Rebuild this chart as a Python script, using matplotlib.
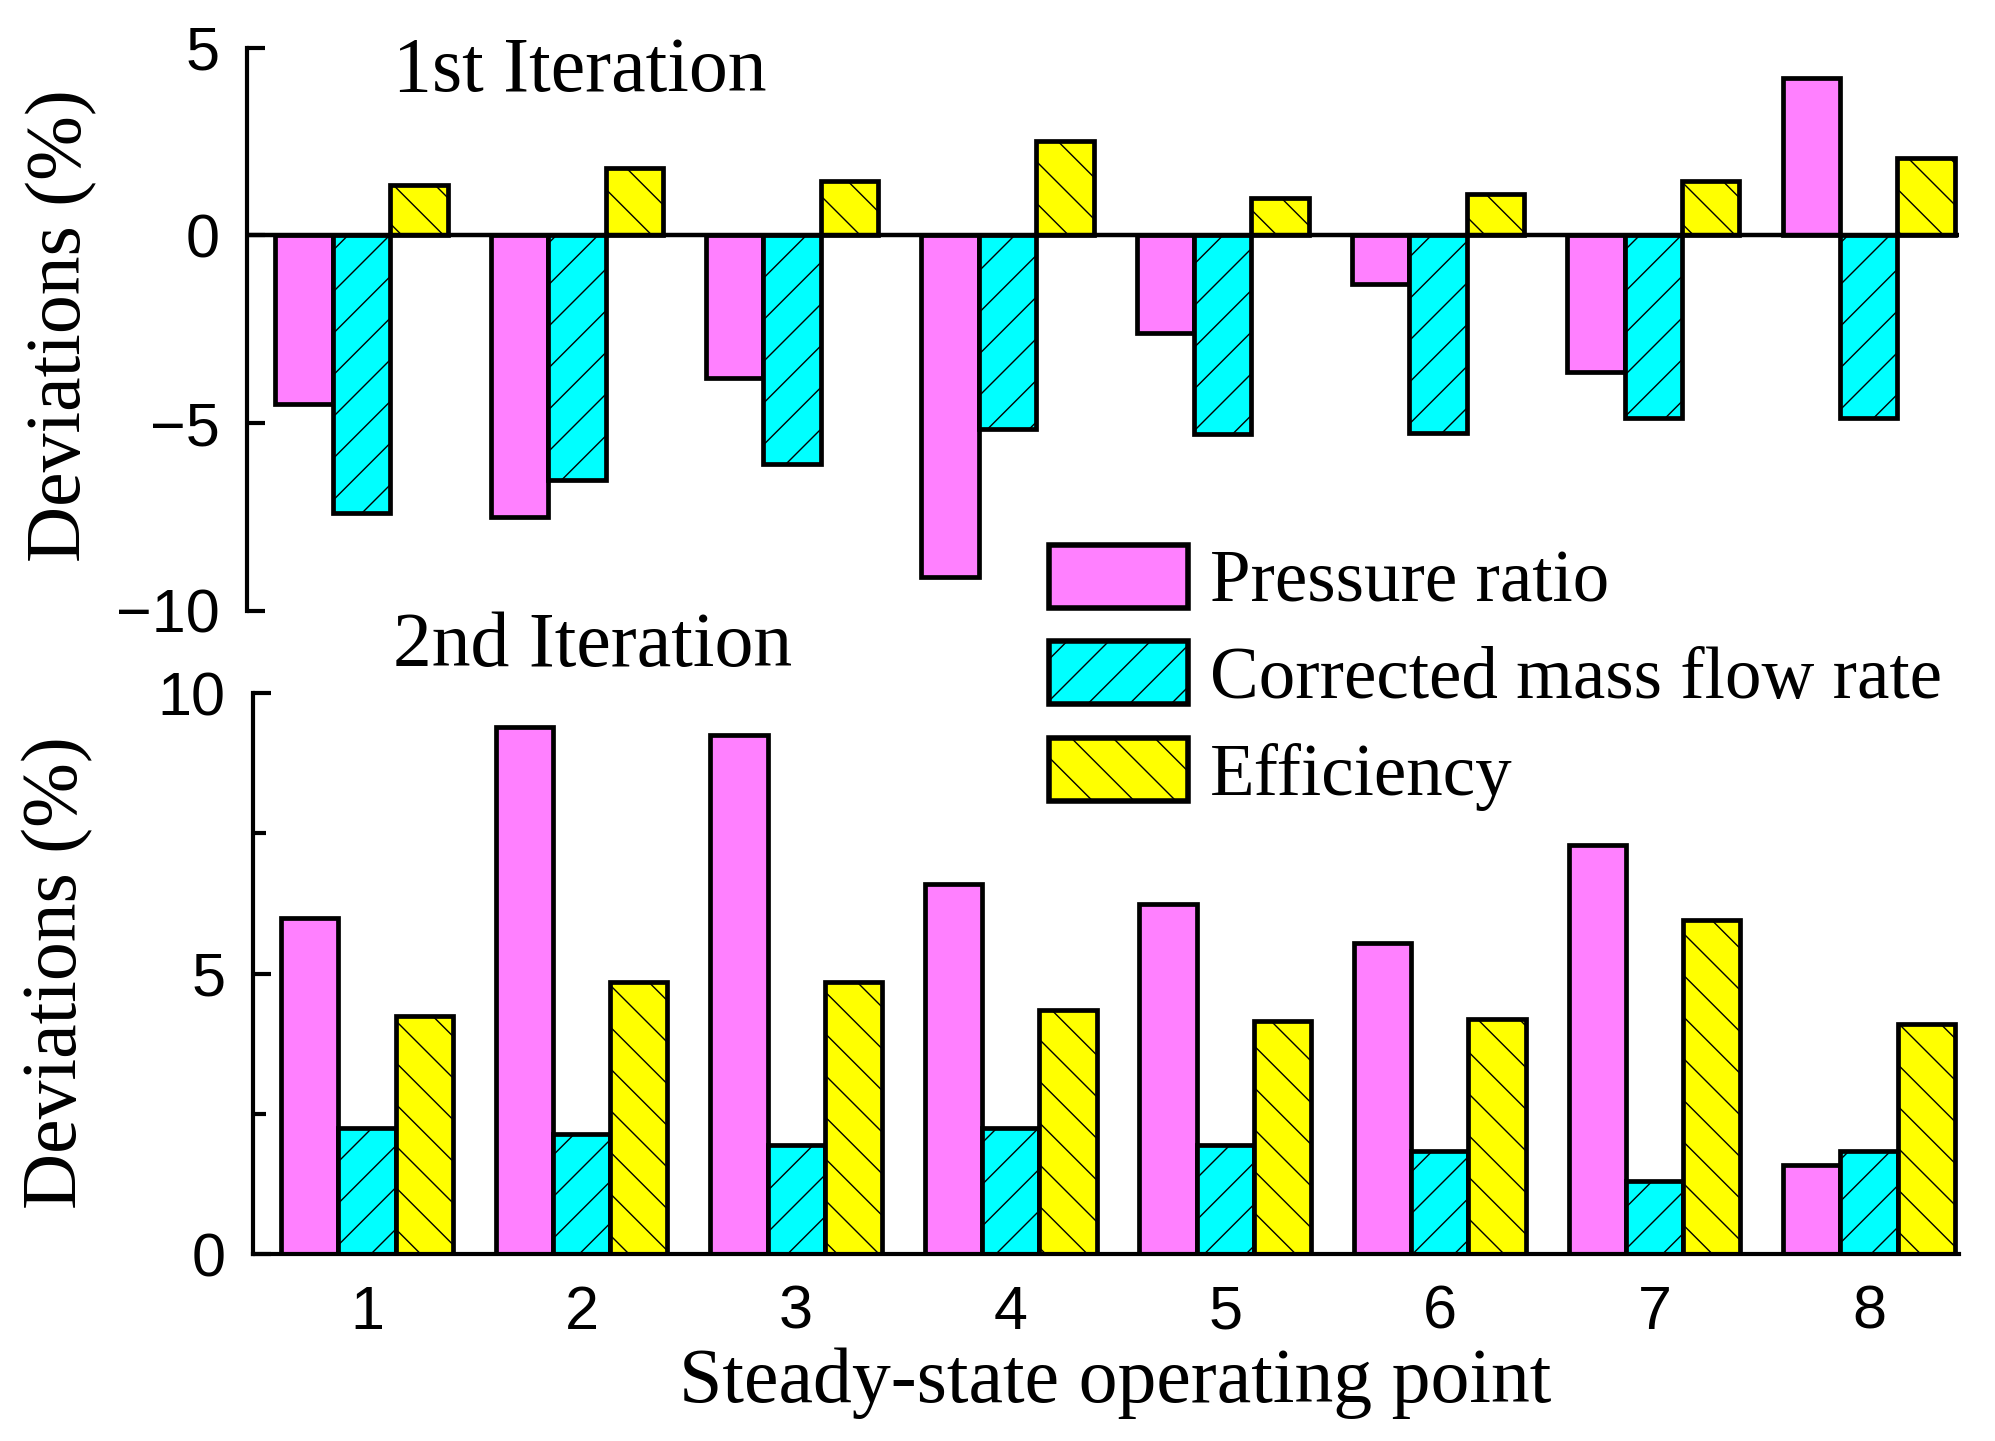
import numpy as np
import matplotlib
matplotlib.use("Agg")
import matplotlib.pyplot as plt

# values
points = [1, 2, 3, 4, 5, 6, 7, 8]
series = ["Pressure ratio", "Corrected mass flow rate", "Efficiency"]

first_pressure = [-4.5, -7.5, -3.8, -9.1, -2.6, -1.3, -3.65, 4.2]
first_flow = [-7.4, -6.5, -6.1, -5.15, -5.3, -5.25, -4.85, -4.85]
first_eff = [1.35, 1.8, 1.45, 2.5, 1.0, 1.1, 1.45, 2.05]

second_pressure = [6.0, 9.4, 9.25, 6.6, 6.25, 5.55, 7.3, 1.6]
second_flow = [2.25, 2.15, 1.95, 2.25, 1.95, 1.85, 1.3, 1.85]
second_eff = [4.25, 4.85, 4.85, 4.35, 4.15, 4.2, 5.95, 4.1]

colors = ["#FF80FF", "#00FFFF", "#FFFF00"]
hatches = [None, "/", "\\"]

DPI = 125
S = 200 / DPI  # sizes below were tuned for 200 dpi

plt.rcParams["hatch.linewidth"] = 0.5 * S
plt.rcParams["axes.unicode_minus"] = True
serif = "Liberation Serif"
sans = "Liberation Sans"

fig = plt.figure(figsize=(1995 / DPI, 1441 / DPI), dpi=DPI)
ax1 = fig.add_axes([0.124, 0.576, 0.858, 0.391])
ax2 = fig.add_axes([0.127, 0.1295, 0.855, 0.3895])

x = np.array(points, dtype=float)
w = 0.8 / 3
offsets = [-w, 0.0, w]


def draw(ax, data):
    handles = []
    for vals, col, hat, off, name in zip(data, colors, hatches, offsets, series):
        b = ax.bar(x + off, vals, width=w, color=col, edgecolor="black",
                   linewidth=1.7 * S, hatch=hat, label=name, zorder=2)
        handles.append(b)
    ax.set_xlim(0.47, 8.42)
    ax.spines["top"].set_visible(False)
    ax.spines["right"].set_visible(False)
    ax.spines["left"].set_linewidth(1.5 * S)
    ax.spines["bottom"].set_linewidth(1.5 * S)
    ax.tick_params(axis="y", direction="in", length=6.5 * S, width=1.5 * S,
                   pad=10 * S, labelsize=22 * S)
    return handles


handles = draw(ax1, [first_pressure, first_flow, first_eff])
ax1.set_ylim(-10, 5)
ax1.set_yticks([5, 0, -5, -10])
for lab in ax1.get_yticklabels():
    lab.set_fontfamily(sans)
ax1.spines["bottom"].set_visible(False)
ax1.set_xticks([])
ax1.axhline(0, color="black", linewidth=1.6 * S, zorder=3)

draw(ax2, [second_pressure, second_flow, second_eff])
ax2.set_ylim(0, 10)
ax2.set_yticks([0, 5, 10])
ax2.set_yticks([2.5, 7.5], minor=True)
ax2.tick_params(axis="y", which="minor", direction="in", length=4.5 * S,
                width=1.5 * S)
for lab in ax2.get_yticklabels():
    lab.set_fontfamily(sans)
ax2.set_xticks(points)
ax2.set_xticklabels([str(p) for p in points], fontfamily=sans)
ax2.tick_params(axis="x", length=0, pad=11 * S, labelsize=22 * S)

fig.text(0.031, 0.774, "Deviations (%)", rotation=90, ha="center", va="center",
         fontsize=28 * S, fontfamily=serif)
fig.text(0.029, 0.325, "Deviations (%)", rotation=90, ha="center", va="center",
         fontsize=28 * S, fontfamily=serif)
fig.text(0.559, 0.04, "Steady-state operating point", ha="center", va="center",
         fontsize=28 * S, fontfamily=serif)
fig.text(0.197, 0.950, "1st Iteration", ha="left", va="center",
         fontsize=28 * S, fontfamily=serif)
fig.text(0.197, 0.551, "2nd Iteration", ha="left", va="center",
         fontsize=28 * S, fontfamily=serif)

leg = fig.legend(handles=handles, loc="upper left", bbox_to_anchor=(0.526, 0.622),
                 frameon=False, prop={"family": serif, "size": 26.3 * S},
                 handlelength=1.9, handleheight=0.95, handletextpad=0.3,
                 labelspacing=0.33, borderpad=0, borderaxespad=0)
for p in leg.get_patches():
    p.set_linewidth(2.0 * S)

fig.savefig("out.png", dpi=DPI)
